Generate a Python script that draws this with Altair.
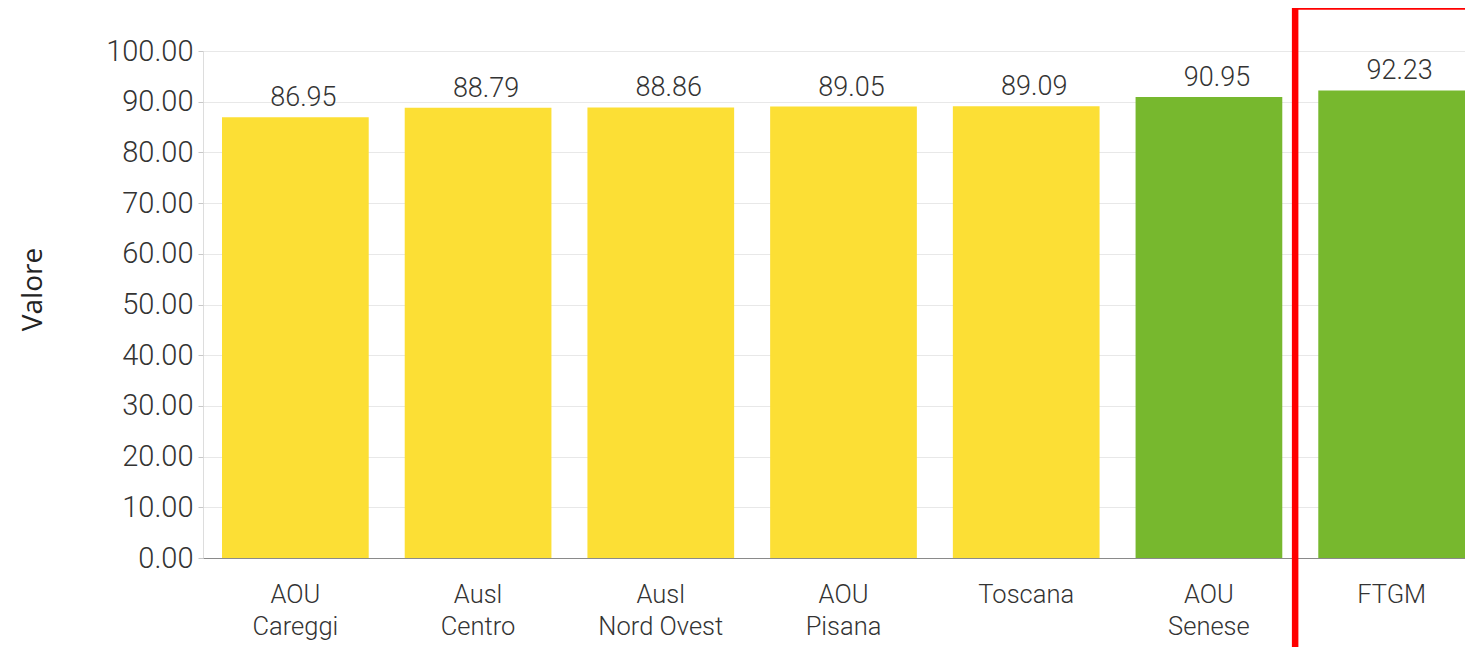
import altair as alt
import pandas as pd

categories = ["AOU Careggi", "Ausl Centro", "Ausl Nord Ovest", "AOU Pisana", "Toscana", "AOU Senese", "FTGM"]
values = [86.95, 88.79, 88.86, 89.05, 89.09, 90.95, 92.23]
fasce = ["giallo", "giallo", "giallo", "giallo", "giallo", "verde", "verde"]
fascia_domain = ["giallo", "verde"]
fascia_colors = ["#FCDF35", "#77B82E"]
y_ticks = [0, 10, 20, 30, 40, 50, 60, 70, 80, 90, 100]
highlight = ["FTGM"]
highlight_top = [108.8]
highlight_bottom = [-18.4]

df = pd.DataFrame({"cat": categories, "valore": values, "fascia": fasce})
hl = pd.DataFrame({"cat": highlight, "top": highlight_top, "bottom": highlight_bottom})

FONT = "Roboto"

xscale = alt.Scale(domain=categories, paddingInner=0.197, paddingOuter=0.052, align=1.0)
yscale = alt.Scale(domain=[0, 100], nice=False, zero=True)

label_expr = ("indexof(datum.label,' ')>0 ? [substring(datum.label,0,indexof(datum.label,' ')), "
              "substring(datum.label,indexof(datum.label,' ')+1)] : datum.label")

bars = alt.Chart(df).mark_bar().encode(
    x=alt.X("cat:N", scale=xscale, sort=categories, title=None,
            axis=alt.Axis(labelAngle=0, labelExpr=label_expr, ticks=False, labelPadding=24,
                          labelFontSize=25.5, labelFont=FONT, labelFontWeight=300,
                          labelColor="#333333", labelLineHeight=32,
                          domainColor="#8a8a8a", domainWidth=1, grid=False)),
    y=alt.Y("valore:Q", scale=yscale, title="Valore",
            axis=alt.Axis(values=y_ticks, format=".2f", labelFontSize=29, labelFont=FONT,
                          labelFontWeight=300, labelColor="#333333", labelPadding=5,
                          tickSize=5, tickColor="#c8c8c8", domain=False,
                          gridColor="#e8e8e8", gridWidth=1,
                          titleFont="Open Sans", titleFontSize=28, titleFontWeight="normal",
                          titleColor="#222222", titleAngle=-90, titleX=-170, titleY=238,
                          titleAlign="center", titleBaseline="middle")),
    color=alt.Color("fascia:N", scale=alt.Scale(domain=fascia_domain, range=fascia_colors), legend=None),
)

text = alt.Chart(df).mark_text(baseline="alphabetic", dy=-11, dx=8, fontSize=27, font=FONT,
                               fontWeight=300, color="#333333").encode(
    x=alt.X("cat:N", scale=xscale, sort=categories),
    y=alt.Y("valore:Q", scale=yscale),
    text=alt.Text("valore:Q", format=".2f"),
)

box = alt.Chart(hl).mark_bar(filled=False, fill=None, stroke="#FF0000", strokeWidth=6.5,
                             width=200, xOffset=3.5).encode(
    x=alt.X("cat:N", scale=xscale, sort=categories),
    y=alt.Y("top:Q", scale=yscale),
    y2="bottom:Q",
)

chart = alt.layer(bars, text, box).properties(
    width=1262, height=507,
    autosize=alt.AutoSizeParams(type="none"),
    padding={"left": 195, "top": 43, "right": 0, "bottom": 89},
).configure_view(stroke=None).configure(background="white")

chart.save("out.html", embed_options={"renderer": "svg", "actions": False})
